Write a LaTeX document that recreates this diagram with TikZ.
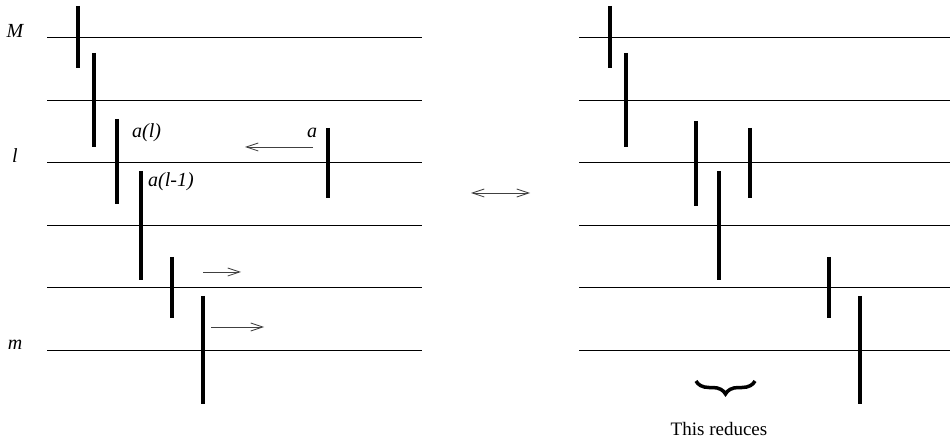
\documentclass[tikz,border=0pt]{standalone}
\usepackage{fontspec}
\setmainfont{Liberation Serif}
\usetikzlibrary{arrows.meta,decorations.pathreplacing}
\begin{document}
\begin{tikzpicture}[x=1pt, y=-1pt, >={Straight Barb[length=12pt,width=8pt]},
  level/.style={line width=0.8pt},
  bar/.style={line width=4pt},
  move/.style={->, line width=0.8pt, black!75},
  lab/.style={font=\fontsize{20}{22}\selectfont\itshape, inner sep=0pt}]
\useasboundingbox (0,0) rectangle (950,443);

% levels, left
\draw[level] (47,37)--(422,37) (47,100)--(422,100) (47,162)--(422,162)
  (47,225)--(422,225) (47,287)--(422,287) (47,350)--(422,350);
\node[lab, anchor=base] at (15,38){M};
\node[lab, anchor=base] at (15,163){l};
\node[lab, anchor=base] at (15,350){m};

% bars, left
\draw[bar] (78,6)--(78,68);
\draw[bar] (94,53)--(94,147);
\draw[bar] (117,119)--(117,204);
\node[lab, anchor=base west] at (132,138){a(l)};
\draw[bar] (141,171)--(141,280);
\node[lab, anchor=base west] at (148,187){a(l-1)};
\draw[bar] (172,257)--(172,318);
\draw[bar] (203,296)--(203,404);
\draw[bar] (328,128)--(328,198);
\node[lab, anchor=base] at (312,138){a};

\draw[move] (313,147)--(245,147);
\draw[move] (203,272)--(241,272);
\draw[move] (211,327)--(264,327);

\draw[move, <->] (471,193)--(530,193);

% levels, right
\draw[level] (579,37)--(950,37) (579,100)--(950,100) (579,162)--(950,162)
  (579,225)--(950,225) (579,287)--(950,287) (579,350)--(950,350);

% bars, right
\draw[bar] (610,6)--(610,68);
\draw[bar] (626,53)--(626,147);
\draw[bar] (696,121)--(696,206);
\draw[bar] (719,171)--(719,280);
\draw[bar] (750,128)--(750,198);
\draw[bar] (829,257)--(829,318);
\draw[bar] (860,296)--(860,404);

\draw[line width=3.5pt, decorate, decoration={brace, mirror, amplitude=13pt}]
  (696,381)--(755,381);
\node[anchor=base, inner sep=0pt, font=\fontsize{19}{21}\selectfont] at (719,435){This reduces};
\end{tikzpicture}
\end{document}
